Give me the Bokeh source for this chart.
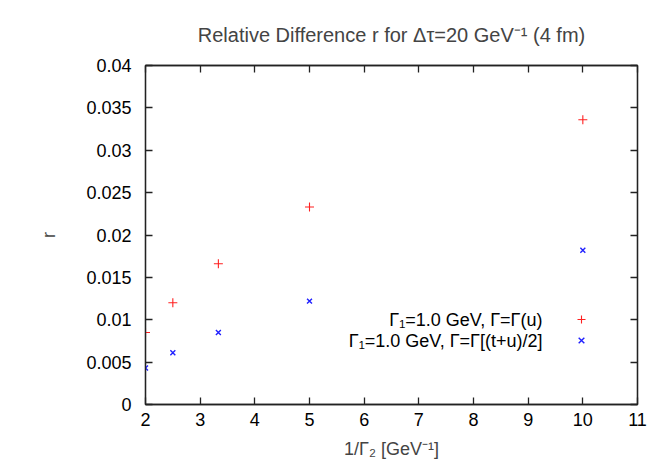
from bokeh.plotting import figure
from bokeh.models import Range1d, FixedTicker, LinearAxis, Legend, LegendItem, Label
from bokeh.embed import file_html
from bokeh.resources import INLINE

# ---- data ----
x_vals = [2.0, 2.5, 3.333, 5.0, 10.0]
r_gamma_u = [0.0085, 0.0120, 0.0166, 0.0233, 0.0336]
r_gamma_tu = [0.0043, 0.0061, 0.0085, 0.0122, 0.0182]
x_ticks = [2, 3, 4, 5, 6, 7, 8, 9, 10, 11]
y_ticks = [0, 0.005, 0.01, 0.015, 0.02, 0.025, 0.03, 0.035, 0.04]
y_tick_labels = ["0", "0.005", "0.01", "0.015", "0.02", "0.025", "0.03", "0.035", "0.04"]
legend_labels = ["Γ\u2081=1.0 GeV, Γ=Γ(u)", "Γ\u2081=1.0 GeV, Γ=Γ[(t+u)/2]"]
title_text = "Relative Difference r for Δτ=20 GeV\u207b\u00b9 (4 fm)"
x_label = "1/Γ\u2082 [GeV\u207b\u00b9]"
y_label = "r"

FONT = "Liberation Sans"
RED = "#ff2020"
BLUE = "#2020ff"

p = figure(width=669, height=464, output_backend="svg", toolbar_location=None,
           x_range=Range1d(2, 11), y_range=Range1d(0, 0.04),
           min_border_left=145, min_border_right=32, min_border_top=65, min_border_bottom=60,
           title=title_text)

p.title.text_font = FONT
p.title.text_font_size = "20px"
p.title.text_font_style = "normal"
p.title.align = "center"
p.title.offset = 0
p.title.standoff = 40

p.grid.visible = False
p.background_fill_color = "white"
p.border_fill_color = "white"
p.outline_line_color = "#222222"
p.outline_line_width = 1.3

def style_axis(ax, show_labels=True):
    ax.axis_line_color = "#222222"
    ax.axis_line_width = 1.3
    ax.major_tick_in = 7
    ax.major_tick_out = 0
    ax.major_tick_line_color = "#222222"
    ax.major_tick_line_width = 1.3
    ax.minor_tick_line_color = None
    ax.major_label_text_font = FONT
    ax.major_label_text_font_size = "18px"
    ax.major_label_text_color = "black"
    ax.axis_label_text_font = FONT
    ax.axis_label_text_font_size = "18px"
    ax.axis_label_text_font_style = "normal"
    if not show_labels:
        ax.major_label_text_font_size = "0px"
        ax.major_label_text_color = None

xa = p.xaxis[0]
ya = p.yaxis[0]
style_axis(xa)
style_axis(ya)
xa.ticker = FixedTicker(ticks=x_ticks)
ya.ticker = FixedTicker(ticks=y_ticks)
ya.major_label_overrides = {t: l for t, l in zip(y_ticks, y_tick_labels)}
xa.axis_label = x_label
ya.axis_label = y_label
xa.major_label_standoff = 8
ya.major_label_standoff = 14
xa.axis_label_standoff = 10
ya.axis_label_standoff = 24

top = LinearAxis(ticker=FixedTicker(ticks=x_ticks))
style_axis(top, show_labels=False)
top.major_label_standoff = 0
right = LinearAxis(ticker=FixedTicker(ticks=y_ticks))
style_axis(right, show_labels=False)
right.major_label_standoff = 0
p.add_layout(top, "above")
p.add_layout(right, "right")

r1 = p.scatter(x_vals, r_gamma_u, marker="cross", size=9, line_color=RED, fill_color=RED,
               line_alpha=1.0, line_width=1.1)
r2 = p.scatter(x_vals, r_gamma_tu, marker="x", size=7, line_color=BLUE, fill_color=BLUE,
               line_alpha=1.0, line_width=1.4)

legend = Legend(items=[LegendItem(label=" ", renderers=[r1], index=0),
                       LegendItem(label=" ", renderers=[r2], index=0)],
                location=(426, 54), padding=0, margin=0, spacing=1,
                glyph_width=20, glyph_height=20, label_height=20, label_width=1,
                label_standoff=0, border_line_color=None, background_fill_alpha=0,
                label_text_font_size="1px", label_text_color=None)
p.add_layout(legend, "center")

for lbl, yy in zip(legend_labels, [85, 64]):
    p.add_layout(Label(x=397, y=yy, x_units="screen", y_units="screen", text=lbl,
                       text_align="right", text_baseline="middle",
                       text_font=FONT, text_font_size="18px", text_color="black"))

open("out.html", "w").write(file_html(p, INLINE))
